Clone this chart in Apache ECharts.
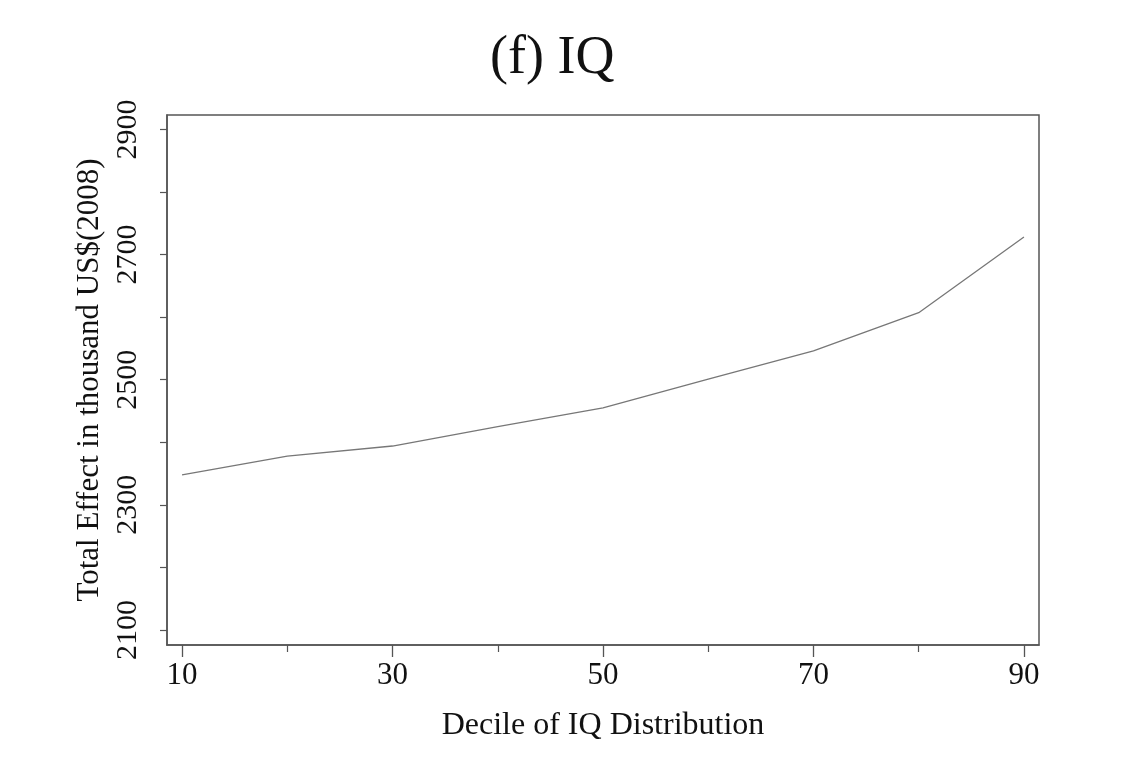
<!DOCTYPE html>
<html lang="en" style="height: 100%">
<head>
    <meta charset="utf-8">
    <title>(f) IQ</title>
    <script src="https://cdn.jsdelivr.net/npm/echarts@6.0.0/dist/echarts.min.js"></script>
    <style>
        body { margin: 0; background: #fff; }
    </style>
</head>
<body>
<div id="chart" style="width:1125px; height:771px;"></div>

<script type="text/javascript">
    var chart = echarts.init(document.getElementById('chart'));

    // data
    var deciles = [10, 20, 30, 40, 50, 60, 70, 80, 90];
    var totalEffect = [2348, 2378, 2394, 2425, 2455, 2501, 2546, 2607, 2728];

    var xMajorTicks = [10, 30, 50, 70, 90];
    var xMinorTicks = [20, 40, 60, 80];
    var yTicks = [2100, 2200, 2300, 2400, 2500, 2600, 2700, 2800, 2900];
    var yLabels = [2100, 2300, 2500, 2700, 2900];

    var font = '"Liberation Serif", "DejaVu Serif", serif';
    var axisCol = '#555';

    chart.setOption({
        animation: false,
        title: {
            text: '(f) IQ',
            left: 485,
            top: 27,
            textStyle: { fontFamily: font, fontSize: 54, fontWeight: 'normal', color: '#111' }
        },
        grid: {
            left: 167, top: 115, right: 86, bottom: 126,
            show: true,
            borderColor: axisCol,
            borderWidth: 1.5,
            containLabel: false
        },
        xAxis: [{
            type: 'value',
            min: 8.57,
            max: 91.43,
            name: 'Decile of IQ Distribution',
            nameLocation: 'middle',
            nameGap: 65,
            nameTextStyle: { fontFamily: font, fontSize: 32, color: '#111' },
            axisLine: { show: true, lineStyle: { color: axisCol, width: 1.5 } },
            splitLine: { show: false },
            axisTick: { show: true, length: 7, customValues: xMinorTicks, lineStyle: { color: axisCol, width: 1.2 } },
            axisLabel: { customValues: xMajorTicks, margin: 15, fontFamily: font, fontSize: 31, color: '#111' }
        }, {
            // longer ticks under the labelled deciles
            type: 'value',
            position: 'bottom',
            min: 8.57,
            max: 91.43,
            axisLine: { show: false },
            splitLine: { show: false },
            axisTick: { show: true, length: 12, customValues: xMajorTicks, lineStyle: { color: axisCol, width: 1.3 } },
            axisLabel: { show: false }
        }],
        yAxis: {
            type: 'value',
            min: 2076,
            max: 2923,
            name: 'Total Effect in thousand US$(2008)',
            nameLocation: 'middle',
            nameGap: 62,
            nameTextStyle: { fontFamily: font, fontSize: 31, color: '#111' },
            axisLine: { show: true, lineStyle: { color: axisCol, width: 1.5 } },
            splitLine: { show: false },
            axisTick: { show: true, length: 7, customValues: yTicks, lineStyle: { color: axisCol, width: 1.2 } },
            axisLabel: {
                customValues: yLabels, rotate: 90, margin: 24,
                fontFamily: font, fontSize: 30, color: '#111',
                formatter: function (v) { return String(v); }
            }
        },
        series: [{
            type: 'line',
            data: deciles.map(function (d, i) { return [d, totalEffect[i]]; }),
            showSymbol: false,
            lineStyle: { color: '#777', width: 1.3 }
        }]
    });
</script>
</body>
</html>
